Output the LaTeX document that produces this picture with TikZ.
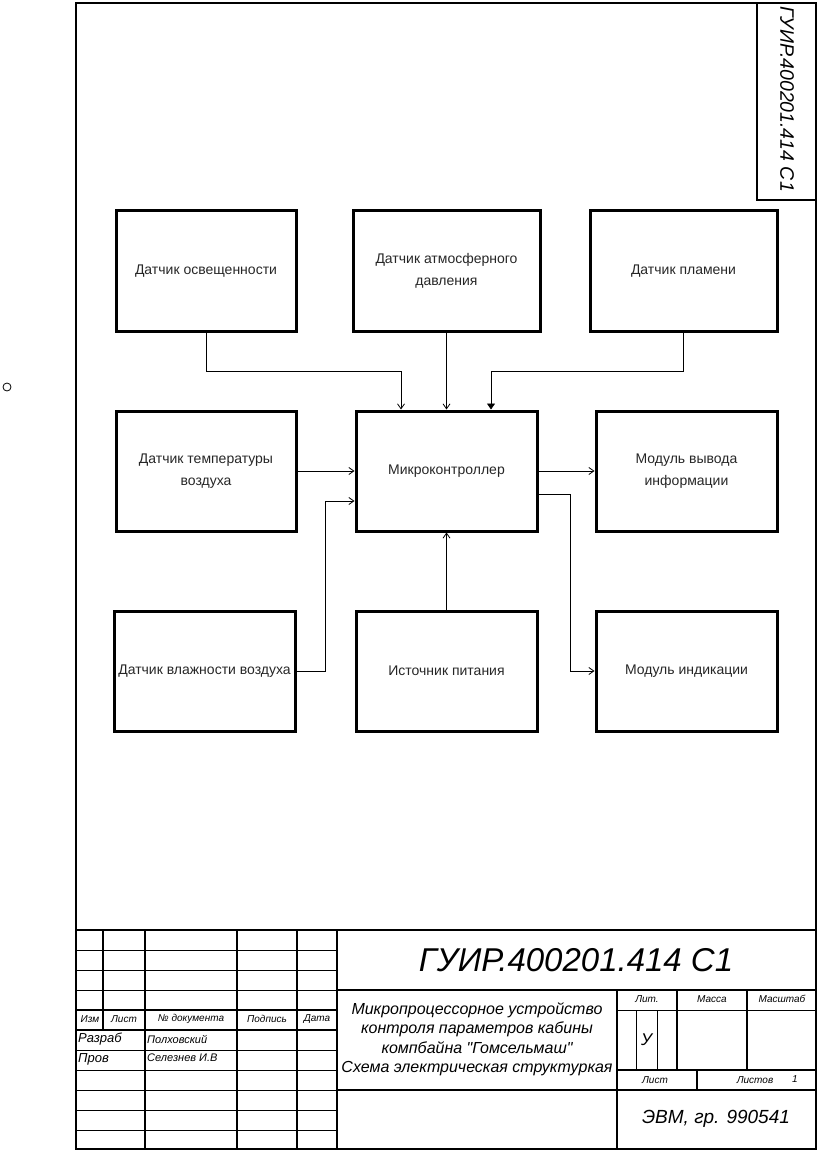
\documentclass[tikz,border=0pt]{standalone}
\usepackage{fontspec}
\setmainfont{Liberation Sans}[Ligatures=TeXOff]
\usetikzlibrary{arrows.meta}
\begin{document}
\begin{tikzpicture}[x=1pt,y=-1pt,
  blk/.style={draw, line width=3pt, minimum width=181pt, minimum height=120pt, inner sep=0pt, align=center, text=black!85, font=\fontsize{14}{22}\selectfont},
  conn/.style={line width=0.8pt, -{Straight Barb[length=5pt,width=7pt]}},
  connf/.style={line width=0.8pt, -{Triangle[length=6pt,width=8pt]}},
  thick3/.style={line width=2.6pt},
  mid2/.style={line width=1.6pt},
  thin1/.style={line width=1pt},
  tb/.style={inner sep=0pt, font=\itshape\fontsize{10}{12}\selectfont},
]
\useasboundingbox (0,0) rectangle (822,1155);
% frame
\draw[thick3] (76,3) rectangle (816,1149);
\draw[thick3] (757,3) -- (757,200) -- (816,200);
\node[rotate=-90, inner sep=0pt, font=\itshape\fontsize{19.5}{22}\selectfont] (stamp) at (787,99) {ГУИР.400201.414 С1};
\node[circle, draw, line width=0.8pt, minimum size=8pt, inner sep=0pt] (dot) at (7,387) {};

% blocks
\node[blk, minimum width=180pt] (osv) at (206,271) {Датчик освещенности};
\node[blk, minimum width=187pt] (atm) at (446.5,271) {Датчик атмосферного\\давления};
\node[blk, minimum width=187pt] (flm) at (683.5,271) {Датчик пламени};
\node[blk, minimum width=180pt] (tmp) at (206,471) {Датчик температуры\\воздуха};
\node[blk] (mcu) at (446.5,471) {Микроконтроллер};
\node[blk] (out) at (686.5,471) {Модуль вывода\\информации};
\node[blk] (hum) at (204.5,671) {Датчик влажности воздуха};
\node[blk] (pwr) at (446.5,671) {Источник питания};
\node[blk] (ind) at (686.5,671) {Модуль индикации};

% connectors
\coordinate (b1) at (401,371);
\coordinate (b2) at (491,371);
\coordinate (b3) at (325,501);
\coordinate (b4) at (570,494);
\draw[conn] (osv.south) |- (b1) -- (b1 |- mcu.north);
\draw[conn] (atm.south) -- (mcu.north);
\draw[connf] (flm.south) |- (b2) -- (b2 |- mcu.north);
\draw[conn] (tmp.east) -- (mcu.west);
\draw[conn] (hum.east) -| (b3) -- (b3 -| mcu.west);
\draw[conn] (pwr.north) -- (mcu.south);
\draw[conn] (mcu.east) -- (out.west);
\draw[conn] (b4 -| mcu.east) -- (b4) |- (ind.west);

% title block: left part
\draw[thick3] (76,930) -- (816,930);
\draw[thin1] (76,950) -- (337,950);
\draw[thin1] (76,970) -- (337,970);
\draw[thin1] (76,990) -- (337,990);
\draw[thick3] (76,1010) -- (337,1010);
\draw[thick3] (76,1030) -- (337,1030);
\draw[thin1] (76,1050) -- (337,1050);
\draw[thin1] (76,1070) -- (337,1070);
\draw[thin1] (76,1090) -- (337,1090);
\draw[thin1] (76,1110) -- (337,1110);
\draw[thin1] (76,1130) -- (337,1130);
\draw[thick3] (103,930) -- (103,1030);
\draw[thick3] (145,930) -- (145,1149);
\draw[thick3] (237,930) -- (237,1149);
\draw[thick3] (297,930) -- (297,1149);
\draw[thick3] (337,930) -- (337,1149);
% title block: right part
\draw[thick3] (337,990) -- (816,990);
\draw[thick3] (337,1090) -- (816,1090);
\draw[thin1] (617,1010) -- (816,1010);
\draw[mid2] (617,1070) -- (816,1070);
\draw[thick3] (617,990) -- (617,1149);
\draw[thick3] (677,990) -- (677,1070);
\draw[thick3] (747,990) -- (747,1070);
\draw[thin1] (636,1010) -- (636,1070);
\draw[thin1] (657,1010) -- (657,1070);
\draw[thick3] (697,1070) -- (697,1090);

% title block texts
\node[tb] (t1) at (90,1019) {Изм};
\node[tb] (t2) at (124,1019) {Лист};
\node[tb] (t3) at (191,1019) {№ документа};
\node[tb] (t4) at (267,1019) {Подпись};
\node[tb] (t5) at (317,1019) {Дата};
\node[tb, anchor=west, font=\itshape\fontsize{13}{15}\selectfont] (t6) at (78,1039) {Разраб};
\node[tb, anchor=west, font=\itshape\fontsize{13}{15}\selectfont] (t7) at (78,1059) {Пров};
\node[tb, anchor=west, font=\itshape\fontsize{11}{13}\selectfont] (t8) at (147,1039) {Полховский};
\node[tb, anchor=west, font=\itshape\fontsize{11}{13}\selectfont] (t9) at (147,1058) {Селезнев И.В};
\node[tb, font=\itshape\fontsize{33}{36}\selectfont] (title) at (576,960) {ГУИР.400201.414 С1};
\node[tb, align=center, font=\itshape\fontsize{16}{19.5}\selectfont] (desc) at (477,1039) {Микропроцессорное устройство\\контроля параметров кабины\\компбайна "Гомсельмаш"\\Схема электрическая структуркая};
\node[tb] (t10) at (647,999) {Лит.};
\node[tb] (t11) at (712,999) {Масса};
\node[tb] (t12) at (782,999) {Масштаб};
\node[tb, font=\itshape\fontsize{17}{19}\selectfont] (t13) at (646.5,1040) {У};
\node[tb] (t14) at (655,1080) {Лист};
\node[tb] (t15) at (755,1080) {Листов};
\node[tb] (t16) at (795,1079) {1};
\node[tb, font=\itshape\fontsize{19}{22}\selectfont] (grp) at (716,1119) {ЭВМ, гр. 990541};
\end{tikzpicture}
\end{document}
